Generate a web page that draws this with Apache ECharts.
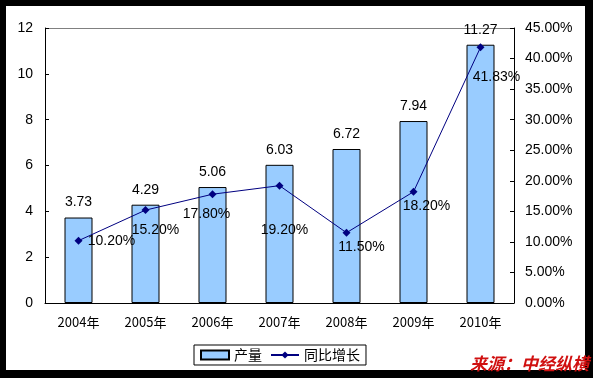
<!doctype html>
<html>
	<head>
		<meta charset="utf-8">
		<title>产量与同比增长</title>
		<script src="https://cdn.jsdelivr.net/npm/echarts@6/dist/echarts.min.js"></script>
		<style>
			html, body { margin: 0; padding: 0; background: #000; }
			#chart { width: 593px; height: 378px; }
		</style>
	</head>
	<body>
		<div id="chart"></div>
		<script type="text/javascript">
			// 数据
			var years = ['2004年', '2005年', '2006年', '2007年', '2008年', '2009年', '2010年'];
			var output = [3.73, 4.29, 5.06, 6.03, 6.72, 7.94, 11.27];
			var growth = [10.20, 15.20, 17.80, 19.20, 11.50, 18.20, 41.83];
			// 增长率标签的偏移（手动摆放的）
			var growthLabelOffset = [[33, 0], [10, 20], [-6, 20], [5, 44], [15, 14], [13, 14], [16, 30]];

			var font = '"Liberation Sans", Arial, "Noto Sans CJK SC", sans-serif';
			var myChart = echarts.init(document.getElementById('chart'));

			var option = {
				backgroundColor: '#000',
				animation: false,
				textStyle: { fontFamily: font },
				graphic: [
					{
						type: 'rect',
						shape: { x: 6, y: 6, width: 579, height: 364 },
						style: { fill: '#fff' },
						z: -10
					},
					{
						type: 'text',
						left: 470,
						top: 355,
						style: {
							text: '来源：中经纵横',
							fill: '#d01010',
							font: 'italic bold 17px "Noto Sans CJK SC", sans-serif'
						},
						z: 100
					}
				],
				legend: {
					left: 194,
					top: 345,
					padding: [3, 6],
					itemGap: 8,
					itemWidth: 28,
					itemHeight: 9,
					borderColor: '#000',
					borderWidth: 1,
					borderRadius: 0,
					textStyle: { fontSize: 14, color: '#000', fontFamily: '"Noto Sans CJK SC", sans-serif' },
					data: [
						{ name: '产量', icon: 'rect' },
						{ name: '同比增长' }
					]
				},
				grid: { left: 45, right: 79, top: 28, bottom: 75 },
				xAxis: {
					type: 'category',
					data: years,
					axisLine: { lineStyle: { color: '#000' } },
					axisTick: { inside: true, length: 4, lineStyle: { color: '#000' } },
					axisLabel: { color: '#000', fontSize: 13, margin: 13, fontFamily: '"Noto Sans CJK SC", sans-serif' }
				},
				yAxis: [
					{
						type: 'value',
						min: 0,
						max: 12,
						interval: 2,
						axisLine: { show: true, lineStyle: { color: '#000' } },
						axisTick: { show: true, inside: true, length: 4, lineStyle: { color: '#000' } },
						axisLabel: { color: '#000', fontSize: 14, margin: 12 },
						splitLine: {
							show: true,
							lineStyle: { color: ['none', 'none', 'none', 'none', 'none', 'none', '#808080'] }
						}
					},
					{
						type: 'value',
						min: 0,
						max: 45,
						interval: 5,
						axisLine: { show: true, lineStyle: { color: '#000' } },
						axisTick: { show: true, inside: true, length: 4, lineStyle: { color: '#000' } },
						axisLabel: {
							color: '#000',
							fontSize: 14,
							margin: 11,
							formatter: function(v) { return v.toFixed(2) + '%'; }
						},
						splitLine: { show: false }
					}
				],
				series: [
					{
						name: '产量',
						type: 'bar',
						barWidth: 28,
						data: output,
						itemStyle: { color: '#99ccff', borderColor: '#000', borderWidth: 1 },
						label: {
							show: true,
							position: 'top',
							distance: 8,
							color: '#000',
							fontSize: 14,
							formatter: function(p) { return p.value.toFixed(2); }
						}
					},
					{
						name: '同比增长',
						type: 'line',
						yAxisIndex: 1,
						data: growth.map(function(v, i) {
							return {
								value: v,
								label: { offset: growthLabelOffset[i] }
							};
						}),
						symbol: 'diamond',
						symbolSize: 8,
						lineStyle: { color: '#000080', width: 1 },
						itemStyle: { color: '#000080' },
						label: {
							show: true,
							position: 'inside',
							color: '#000',
							fontSize: 14,
							formatter: function(p) { return p.value.toFixed(2) + '%'; }
						},
						z: 5
					}
				]
			};
			myChart.setOption(option);
		</script>
	</body>
</html>
